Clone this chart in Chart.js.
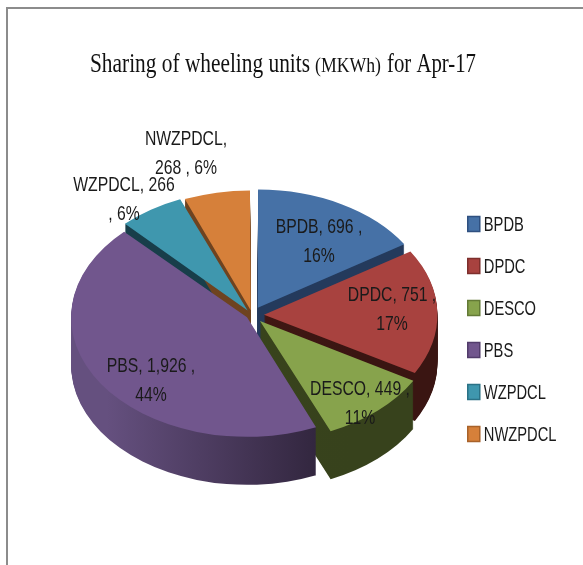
<!DOCTYPE html>
<html>
<head>
<meta charset="utf-8">
<title>Sharing of wheeling units</title>
<script src="https://cdn.jsdelivr.net/npm/chart.js@4/dist/chart.umd.min.js"></script>
<style>
    html, body { margin: 0; padding: 0; background: #fff; overflow: hidden; }
    #frame { position: absolute; left: 6px; top: 7px; width: 600px; height: 600px; border-left: 2px solid #8c8c8c; border-top: 2px solid #8c8c8c; }
    #chart { position: absolute; left: 0; top: 0; }
</style>
</head>
<body>
<div id="frame"></div>
<canvas id="chart" width="583" height="565"></canvas>
<script>
const categories = ['BPDB', 'DPDC', 'DESCO', 'PBS', 'WZPDCL', 'NWZPDCL'];
const units = [696, 751, 449, 1926, 266, 268];
const labelLines = [
    ['BPDB, 696 ,', '16%'],
    ['DPDC, 751 ,', '17%'],
    ['DESCO, 449 ,', '11%'],
    ['PBS, 1,926 ,', '44%'],
    ['WZPDCL, 266', ', 6%'],
    ['NWZPDCL,', '268 , 6%']
];
const titleParts = ['Sharing of wheeling units', '(MKWh)', 'for Apr-17'];

const topColors = ['#4671a6', '#a8423f', '#87a34c', '#71568d', '#3f97ae', '#d6803a'];
const edgeColors = ['#2f5080', '#7d2f2c', '#637a36', '#523c6b', '#2b7286', '#a8622a'];
const wallLeft = ['#243a5c', '#4a1a16', '#3a441c', '#65507f', '#183e4a', '#6e4320'];
const wallRight = ['#243a5c', '#3a1512', '#37421c', '#2d2238', '#183e4a', '#6e4320'];

// where the squashed pie sits on the page
const pieX = 252, pieY = 315, squash = 0.68, wallDepth = 48;
const paintOrder = [4, 5, 0, 1, 2, 3];

// centre x and first baseline of each data label
const labelSpots = [[319, 233], [392, 301], [360, 395], [151, 372], [124, 191], [186, 145]];
// the reference text is a condensed face, so the sans is squeezed to fit
const textFont = '21px "Liberation Sans"';
const labelSqueeze = 0.75;
const legendSqueeze = 0.7;

const pieTransform = (ctx, arc) => {
    ctx.translate(pieX, pieY);
    ctx.scale(1, squash);
    ctx.translate(-arc.x, -arc.y);
};

const depthPlugin = {
    id: 'depth',
    beforeDatasetsDraw(chart) {
        const ctx = chart.ctx;
        const arcs = chart.getDatasetMeta(0).data;
        ctx.save();
        pieTransform(ctx, arcs[0]);
        paintOrder.forEach(i => {
            const arc = arcs[i];
            const gradient = ctx.createLinearGradient(pieX - arc.outerRadius, 0, pieX + arc.outerRadius * 0.35, 0);
            gradient.addColorStop(0, wallLeft[i]);
            gradient.addColorStop(1, wallRight[i]);
            const ghost = Object.create(arc);
            ghost.options = {offset: arc.options.offset, spacing: 0, circular: true, borderWidth: 0, backgroundColor: gradient};
            for (let d = wallDepth; d > 0; d--) {
                ctx.save();
                ctx.translate(0, d / squash);
                ghost.draw(ctx);
                ctx.restore();
            }
        });
    },
    afterDatasetsDraw(chart) {
        chart.ctx.restore();
    }
};

const squeezedText = (ctx, text, x, y, factor) => {
    ctx.fillText(text, x, y, ctx.measureText(text).width * factor);
};

const textPlugin = {
    id: 'chartText',
    afterDraw(chart) {
        const ctx = chart.ctx;
        ctx.save();
        ctx.fillStyle = '#1a1a1a';
        ctx.textBaseline = 'alphabetic';
        ctx.textAlign = 'center';
        ctx.font = textFont;
        labelLines.forEach((lines, i) => {
            lines.forEach((line, n) => squeezedText(ctx, line, labelSpots[i][0], labelSpots[i][1] + n * 29, labelSqueeze));
        });

        // legend names go next to the native swatches
        ctx.textAlign = 'left';
        ctx.textBaseline = 'middle';
        chart.legend.legendHitBoxes.forEach((box, i) => {
            squeezedText(ctx, categories[i], box.left + 16, box.top + box.height / 2 + 1, legendSqueeze);
        });

        ctx.textBaseline = 'alphabetic';
        ctx.fillStyle = '#111';
        ctx.font = '28px "Liberation Serif"';
        ctx.fillText(titleParts[0], 90, 72, 220);
        ctx.font = '20px "Liberation Serif"';
        ctx.fillText(titleParts[1], 315, 72, 66);
        ctx.font = '28px "Liberation Serif"';
        ctx.fillText(titleParts[2], 387, 72, 89);
        ctx.restore();
    }
};

new Chart(document.getElementById('chart'), {
    type: 'pie',
    data: {
        labels: categories,
        datasets: [{
            data: units,
            backgroundColor: topColors,
            borderWidth: 0,
            offset: [48, 48, 48, 24, 32, 28],
            clip: false
        }]
    },
    options: {
        responsive: false,
        animation: false,
        events: [],
        radius: 172,
        layout: {padding: {top: 93, right: 17}},
        plugins: {
            tooltip: {enabled: false},
            title: {display: false},
            legend: {
                position: 'right',
                labels: {
                    boxWidth: 12,
                    boxHeight: 15,
                    padding: 27,
                    font: {family: '"Liberation Sans"', size: 14},
                    generateLabels: () => categories.map((name, i) => ({
                        text: name,
                        fontColor: 'rgba(0,0,0,0)',
                        fillStyle: topColors[i],
                        strokeStyle: edgeColors[i],
                        lineWidth: 1.5,
                        index: i
                    }))
                }
            }
        }
    },
    plugins: [depthPlugin, textPlugin]
});
</script>
</body>
</html>
